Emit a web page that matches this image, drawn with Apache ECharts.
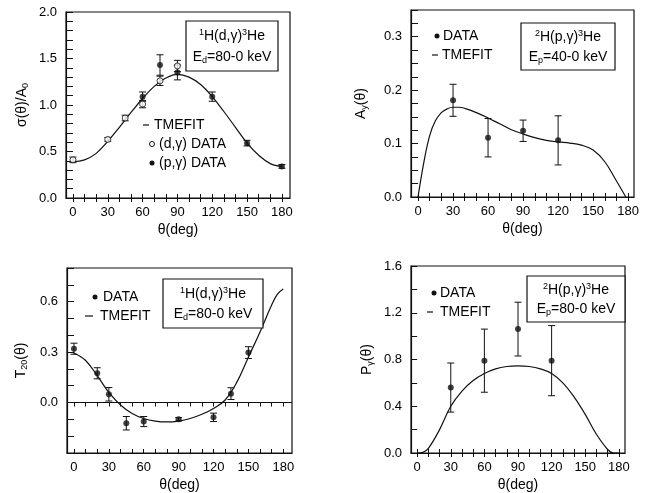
<!DOCTYPE html>
<html><head><meta charset="utf-8">
<script src="https://cdn.jsdelivr.net/npm/echarts@6/dist/echarts.min.js"></script>
<style>html,body{margin:0;padding:0;background:#fff}#c{width:663px;height:493px}</style>
</head><body><div id="c"></div>
<script>
// ---------- Panel 1: sigma(theta)/A0 ----------
const p1DGTheta = [0, 30, 45, 60, 75, 90];
const p1DGVal   = [0.41, 0.63, 0.86, 1.01, 1.26, 1.42];
const p1DGErr   = [0.03, 0.02, 0.03, 0.04, 0.05, 0.06];
const p1PGTheta = [60, 75, 90, 120, 150, 180];
const p1PGVal   = [1.09, 1.43, 1.35, 1.09, 0.59, 0.34];
const p1PGErr   = [0.05, 0.11, 0.08, 0.05, 0.03, 0.02];
const p1FitTheta = [0,10,20,30,40,50,60,70,80,90,100,110,120,130,140,150,160,170,180];
const p1FitVal   = [0.39,0.41,0.48,0.61,0.76,0.92,1.07,1.20,1.29,1.33,1.30,1.22,1.09,0.93,0.76,0.59,0.46,0.37,0.34];
// ---------- Panel 2: A_y(theta) ----------
const p2Theta = [30, 60, 90, 120];
const p2Val   = [0.181, 0.111, 0.124, 0.106];
const p2Err   = [0.030, 0.036, 0.020, 0.046];
const p2FitTheta = [0,5,10,15,20,25,30,35,40,50,60,70,80,90,100,110,120,130,140,150,160,170,178];
const p2FitVal   = [0,0.065,0.115,0.143,0.158,0.165,0.168,0.168,0.166,0.158,0.148,0.137,0.126,0.118,0.111,0.106,0.103,0.101,0.097,0.088,0.066,0.030,0];
// ---------- Panel 3: T20(theta) ----------
const p3Theta = [0, 20, 30, 45, 60, 90, 120, 135, 150];
const p3Val   = [0.32, 0.174, 0.049, -0.123, -0.113, -0.10, -0.088, 0.053, 0.297];
const p3Err   = [0.033, 0.033, 0.040, 0.040, 0.030, 0.010, 0.025, 0.035, 0.035];
const p3FitTheta = [0,10,20,30,40,50,60,70,80,90,100,110,120,130,140,150,160,170,175,180];
const p3FitVal   = [0.295,0.25,0.16,0.06,-0.015,-0.065,-0.095,-0.11,-0.115,-0.11,-0.095,-0.07,-0.035,0.015,0.12,0.27,0.42,0.58,0.645,0.675];
// ---------- Panel 4: P_gamma(theta) ----------
const p4Theta = [30, 60, 90, 120];
const p4Val   = [0.56, 0.79, 1.06, 0.79];
const p4Lo    = [0.35, 0.52, 0.83, 0.49];
const p4Hi    = [0.77, 1.06, 1.29, 1.09];
const p4FitTheta = [0,5,10,20,30,40,50,60,70,80,90,100,110,120,130,140,150,160,170,175,180];
const p4FitVal   = [0,0.005,0.04,0.20,0.40,0.53,0.62,0.68,0.72,0.74,0.745,0.74,0.72,0.68,0.60,0.48,0.33,0.16,0.03,0,0];
// ---------- tick labels ----------
const xLabels = [0, 30, 60, 90, 120, 150, 180];
const y1Labels = [0.0, 0.5, 1.0, 1.5, 2.0];
const y2Labels = [0.0, 0.1, 0.2, 0.3];
const y3Labels = [0.0, 0.3, 0.6];
const y4Labels = [0.0, 0.4, 0.8, 1.2, 1.6];

const FONT = '"Liberation Sans", Arial, sans-serif';
const chart = echarts.init(document.getElementById('c'));

function range(a, b, s) { const r = []; for (let v = a; v <= b + 1e-9; v += s) r.push(+v.toFixed(4)); return r; }
const xTicks = range(0, 180, 10);

const grids = [
  {left: 66, top: 12, width: 224, height: 186},
  {left: 411, top: 10, width: 223, height: 187},
  {left: 67, top: 268, width: 225, height: 186},
  {left: 411, top: 266, width: 214, height: 187}
];
const xr = [[-6, 187], [-6, 185], [-6, 187.5], [-5.5, 185.5]];
const yr = [[0, 2], [0, 0.35], [-0.3, 0.8], [0, 1.6]];
const yLab = [y1Labels, y2Labels, y3Labels, y4Labels];
const yTk = [range(0, 2, 0.1), range(0, 0.35, 0.025), range(-0.3, 0.8, 0.1), range(0, 1.6, 0.2)];
const yNames = ['{m|σ(θ)/A}{s|0}', '{m|A}{s|y}{m|(θ)}', '{m|T}{s|20}{m|(θ)}', '{m|P}{s|γ}{m|(θ)}'];
const yGaps = [36, 42, 38, 36];
const nameRich = {m: {fontSize: 14, fontFamily: FONT, color: '#000'}, s: {fontSize: 9, fontFamily: FONT, color: '#000', verticalAlign: 'bottom', padding: [6, 0, 0, 0]}};

const xAxis = [], yAxis = [];
grids.forEach((g, i) => {
  g.show = true; g.borderColor = '#111'; g.borderWidth = 1.2; g.backgroundColor = 'transparent';
  xAxis.push({
    type: 'value', gridIndex: i, min: xr[i][0], max: xr[i][1], position: 'bottom',
    name: 'θ(deg)', nameLocation: 'middle', nameGap: 25,
    nameTextStyle: {fontSize: 14, fontFamily: FONT, color: '#000'},
    axisLine: {show: true, onZero: false, lineStyle: {color: '#111', width: 1.2}},
    axisTick: {show: true, inside: true, length: 4, customValues: xTicks, lineStyle: {color: '#111'}},
    axisLabel: {customValues: xLabels, fontSize: 13, fontFamily: FONT, color: '#000', margin: 8},
    splitLine: {show: false}
  });
  xAxis.push({
    type: 'value', gridIndex: i, min: xr[i][0], max: xr[i][1], position: 'top',
    axisLine: {show: false},
    axisTick: {show: true, inside: true, length: 4, customValues: xTicks, lineStyle: {color: '#111'}},
    axisLabel: {show: false}, splitLine: {show: false}
  });
  yAxis.push({
    type: 'value', gridIndex: i, min: yr[i][0], max: yr[i][1], position: 'left',
    name: yNames[i], nameLocation: 'middle', nameGap: yGaps[i], nameRotate: 90,
    nameTextStyle: {rich: nameRich},
    axisLine: {show: true, onZero: false, lineStyle: {color: '#111', width: 1.2}},
    axisTick: {show: true, inside: true, length: 4, customValues: yTk[i], lineStyle: {color: '#111'}},
    axisLabel: {customValues: yLab[i], fontSize: 13, fontFamily: FONT, color: '#000', margin: 9,
                formatter: v => v.toFixed(1)},
    splitLine: {show: false}
  });
  yAxis.push({
    type: 'value', gridIndex: i, min: yr[i][0], max: yr[i][1], position: 'right',
    axisLine: {show: false},
    axisTick: {show: true, inside: true, length: 4, customValues: yTk[i], lineStyle: {color: '#111'}},
    axisLabel: {show: false}, splitLine: {show: false}
  });
});

function zip2(a, b) { return a.map((v, k) => [v, b[k]]); }
function errData(th, val, err) { return th.map((t, k) => [t, val[k] - err[k], val[k] + err[k]]); }
function errSeries(gi, data) {
  return {
    type: 'custom', xAxisIndex: gi * 2, yAxisIndex: gi * 2, data: data, silent: true, z: 3,
    renderItem: (params, api) => {
      const x = api.value(0), lo = api.value(1), hi = api.value(2);
      const a = api.coord([x, lo]), b = api.coord([x, hi]);
      const w = 3.5;
      const st = {stroke: '#111', lineWidth: 1};
      return {type: 'group', children: [
        {type: 'line', shape: {x1: a[0], y1: a[1], x2: b[0], y2: b[1]}, style: st},
        {type: 'line', shape: {x1: a[0] - w, y1: a[1], x2: a[0] + w, y2: a[1]}, style: st},
        {type: 'line', shape: {x1: b[0] - w, y1: b[1], x2: b[0] + w, y2: b[1]}, style: st}
      ]};
    }
  };
}
function fitSeries(gi, th, v) {
  return {type: 'line', xAxisIndex: gi * 2, yAxisIndex: gi * 2, data: zip2(th, v), smooth: 0.4,
          showSymbol: false, lineStyle: {color: '#111', width: 1.2}, z: 2, silent: true};
}
function dotSeries(gi, th, v, open) {
  return {type: 'scatter', xAxisIndex: gi * 2, yAxisIndex: gi * 2, data: zip2(th, v),
          symbol: 'circle', symbolSize: 6,
          itemStyle: open ? {color: '#fff', borderColor: '#111', borderWidth: 1} : {color: '#111'}, z: 4, silent: true};
}

const series = [
  fitSeries(0, p1FitTheta, p1FitVal),
  errSeries(0, errData(p1DGTheta, p1DGVal, p1DGErr)),
  errSeries(0, errData(p1PGTheta, p1PGVal, p1PGErr)),
  dotSeries(0, p1DGTheta, p1DGVal, true),
  dotSeries(0, p1PGTheta, p1PGVal, false),
  fitSeries(1, p2FitTheta, p2FitVal),
  errSeries(1, errData(p2Theta, p2Val, p2Err)),
  dotSeries(1, p2Theta, p2Val, false),
  Object.assign(fitSeries(2, p3FitTheta, p3FitVal), {
    markLine: {silent: true, symbol: 'none', label: {show: false}, lineStyle: {color: '#111', width: 1, type: 'solid'}, data: [{yAxis: 0}]}
  }),
  errSeries(2, errData(p3Theta, p3Val, p3Err)),
  dotSeries(2, p3Theta, p3Val, false),
  fitSeries(3, p4FitTheta, p4FitVal),
  errSeries(3, p4Theta.map((t, k) => [t, p4Lo[k], p4Hi[k]])),
  dotSeries(3, p4Theta, p4Val, false)
];

const txt = {fontSize: 14, fontFamily: FONT, fill: '#000'};
const boxRich = {
  m: {fontSize: 14, fontFamily: FONT, color: '#000'},
  u: {fontSize: 9, fontFamily: FONT, color: '#000', verticalAlign: 'top', padding: [0, 0, 7, 0]},
  d: {fontSize: 9, fontFamily: FONT, color: '#000', verticalAlign: 'bottom', padding: [7, 0, 0, 0]}
};
function box(x1, y1, x2, y2, l1, l2) {
  const cx = (x1 + x2) / 2;
  const h = y2 - y1;
  return [
    {type: 'rect', shape: {x: x1, y: y1, width: x2 - x1, height: h}, style: {fill: '#fff', stroke: '#111', lineWidth: 1.2}, z: 10},
    {type: 'text', x: cx, y: y1 + h * 0.3, style: {text: l1, rich: boxRich, align: 'center', verticalAlign: 'middle'}, z: 11},
    {type: 'text', x: cx, y: y1 + h * 0.72, style: {text: l2, rich: boxRich, align: 'center', verticalAlign: 'middle'}, z: 11}
  ];
}
function label(x, y, s) {
  return {type: 'text', x: x, y: y, style: Object.assign({text: s, verticalAlign: 'middle'}, txt), z: 11};
}
function dash(x1, x2, y) {
  return {type: 'line', shape: {x1: x1, y1: y, x2: x2, y2: y}, style: {stroke: '#111', lineWidth: 1.2}, z: 11};
}
function dot(x, y, open) {
  return {type: 'circle', shape: {cx: x, cy: y, r: 2.5},
          style: open ? {fill: '#fff', stroke: '#111', lineWidth: 1} : {fill: '#111'}, z: 11};
}

const graphic = [].concat(
  box(186, 21, 278, 71, '{u|1}{m|H(d,γ)}{u|3}{m|He}', '{m|E}{d|d}{m|=80-0 keV}'),
  [dash(143, 149, 125), label(154, 125, 'TMEFIT'),
   dot(152, 144, true), label(159, 144, '(d,γ) DATA'),
   dot(152, 163, false), label(159, 163, '(p,γ) DATA')],
  box(521, 23, 615, 70, '{u|2}{m|H(p,γ)}{u|3}{m|He}', '{m|E}{d|p}{m|=40-0 keV}'),
  [dot(437, 36, false), label(443, 36, 'DATA'), dash(432, 438, 55), label(442, 55, 'TMEFIT')],
  box(163, 279, 263, 328, '{u|1}{m|H(d,γ)}{u|3}{m|He}', '{m|E}{d|d}{m|=80-0 keV}'),
  [dot(95, 297, false), label(103, 297, 'DATA'), dash(85, 93, 316), label(100, 316, 'TMEFIT')],
  box(527, 276, 625, 322, '{u|2}{m|H(p,γ)}{u|3}{m|He}', '{m|E}{d|p}{m|=80-0 keV}'),
  [dot(434, 293, false), label(440, 293, 'DATA'), dash(427, 433, 312), label(440, 312, 'TMEFIT')]
);

chart.setOption({
  animation: false,
  backgroundColor: '#fff',
  grid: grids, xAxis: xAxis, yAxis: yAxis, series: series, graphic: graphic
});
</script></body></html>
